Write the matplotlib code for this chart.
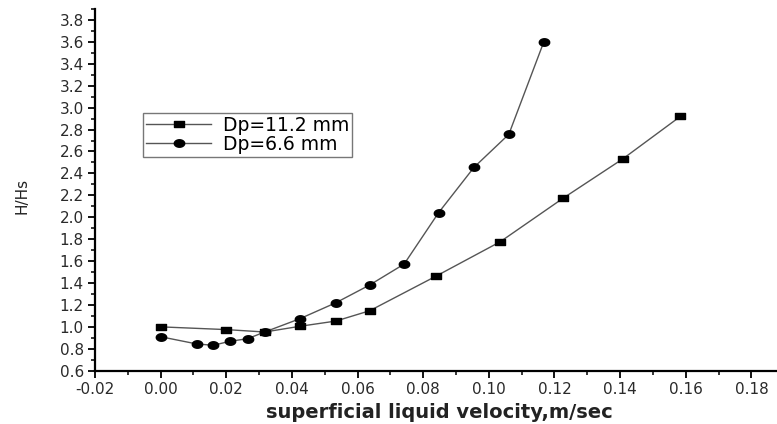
import matplotlib
matplotlib.use("Agg")
import matplotlib.pyplot as plt
import numpy as np
from matplotlib.path import Path
from matplotlib.ticker import MultipleLocator, FormatStrFormatter

# Bed expansion ratio H/Hs versus superficial liquid velocity
v_112 = [0.000, 0.020, 0.0317, 0.0424, 0.0534, 0.0637, 0.0840, 0.1035, 0.1226, 0.1408, 0.1584]
h_112 = [1.00, 0.975, 0.953, 1.005, 1.053, 1.147, 1.464, 1.777, 2.173, 2.532, 2.921]

v_66 = [0.000, 0.011, 0.016, 0.0211, 0.0265, 0.0317, 0.0424, 0.0534, 0.0637, 0.0742,
        0.0847, 0.0955, 0.1061, 0.1167]
h_66 = [0.910, 0.844, 0.832, 0.868, 0.892, 0.953, 1.074, 1.220, 1.382, 1.573,
        2.042, 2.456, 2.757, 3.596]

labels = ["Dp=11.2 mm", "Dp=6.6 mm"]

# slightly wide marker shapes
sq = Path([(-1, -0.65), (1, -0.65), (1, 0.65), (-1, 0.65), (-1, -0.65)],
          [Path.MOVETO, Path.LINETO, Path.LINETO, Path.LINETO, Path.CLOSEPOLY])
t = np.linspace(0, 2 * np.pi, 41)
ell = Path(np.column_stack([np.cos(t), 0.72 * np.sin(t)]))

W, H = 777, 424
fig = plt.figure(figsize=(W / 100, H / 100), dpi=100)
x0, y0, x1, y1 = 95, 370.7, 776, 9
ax = fig.add_axes([x0 / W, (H - y0) / H, (x1 - x0) / W, (y0 - y1) / H])

line_kw = dict(color="#555555", lw=1.0, markerfacecolor="black", markeredgecolor="black")
ax.plot(v_112, h_112, marker=sq, ms=7, label=labels[0], **line_kw)
ax.plot(v_66, h_66, marker=ell, ms=7.5, label=labels[1], **line_kw)

ax.set_xlim(-0.02, 0.1875)
ax.set_ylim(0.6, 3.9)
ax.xaxis.set_major_locator(MultipleLocator(0.02))
ax.xaxis.set_minor_locator(MultipleLocator(0.01))
ax.yaxis.set_major_locator(MultipleLocator(0.2))
ax.yaxis.set_minor_locator(MultipleLocator(0.1))
ax.xaxis.set_major_formatter(FormatStrFormatter("%.2f"))
ax.yaxis.set_major_formatter(FormatStrFormatter("%.1f"))

for s in ("top", "right"):
    ax.spines[s].set_visible(False)
for s in ("left", "bottom"):
    ax.spines[s].set_linewidth(1.6)

ax.tick_params(which="major", direction="out", length=5, width=1.3,
               labelsize=11, pad=3)
ax.tick_params(which="minor", direction="out", length=3, width=1.1)
for lab in ax.get_xticklabels() + ax.get_yticklabels():
    lab.set_family("DejaVu Sans")
    lab.set_color("#2a2a2a")

ax.set_xlabel("superficial liquid velocity,m/sec", family="DejaVu Sans",
              fontsize=14, fontweight="semibold", color="#222222")
ax.xaxis.set_label_coords((439 - x0) / (x1 - x0), (y0 - 412) / (y0 - y1), transform=ax.transAxes)
ax.xaxis.label.set_va("center")
ax.set_ylabel("H/Hs", family="DejaVu Sans", fontsize=11, color="#222222")
ax.yaxis.set_label_coords((22 - x0) / (x1 - x0), (y0 - 196) / (y0 - y1), transform=ax.transAxes)
ax.yaxis.label.set_va("center")

leg = ax.legend(loc="upper left", bbox_to_anchor=((143 - x0) / (x1 - x0), (y0 - 113) / (y0 - y1)),
                frameon=True, fancybox=False, edgecolor="#555555",
                prop={"family": "DejaVu Sans", "size": 13.5},
                handlelength=3.5, handletextpad=0.6, borderpad=0.15,
                labelspacing=0.0, borderaxespad=0)
leg.get_frame().set_linewidth(1.0)

fig.savefig("out.png", dpi=100)
